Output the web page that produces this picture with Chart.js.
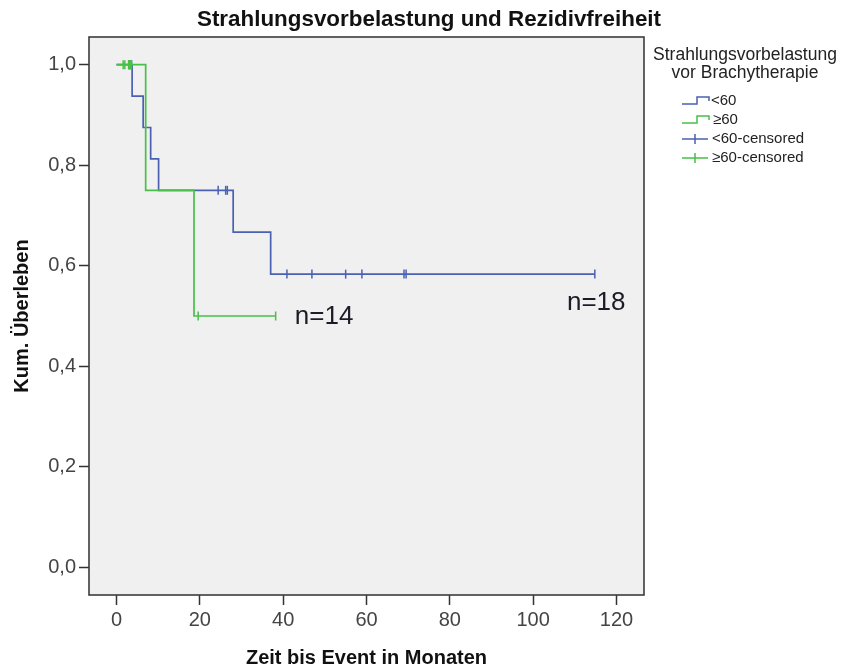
<!DOCTYPE html>
<html>
<head>
<meta charset="utf-8">
<script src="https://cdn.jsdelivr.net/npm/chart.js@4/dist/chart.umd.min.js"></script>
<style>
  html, body { margin: 0; padding: 0; background: #ffffff; }
  #wrap { width: 844px; height: 671px; position: relative; }
</style>
</head>
<body>
<div id="wrap"><canvas id="km"></canvas></div>
<script>
// Kaplan-Meier step curves (time in months, cumulative survival)
const lowTimes = [0, 3.75, 6.4, 8.2, 10.1, 28.0, 37.0, 114.8];
const lowSurv  = [1, 0.9375, 0.875, 0.8125, 0.75, 0.6667, 0.5833, 0.5833];
const highTimes = [0, 7.0, 18.6, 38.2];
const highSurv  = [1, 0.75, 0.5, 0.5];

// Censored observations
const lowCensTimes = [3.0, 3.6, 24.4, 26.2, 26.6, 40.9, 46.9, 55.0, 58.9, 69.0, 69.5, 114.8];
const lowCensSurv  = [1, 1, 0.75, 0.75, 0.75, 0.5833, 0.5833, 0.5833, 0.5833, 0.5833, 0.5833, 0.5833];
const highCensTimes = [1.6, 2.0, 2.9, 3.0, 3.1, 3.2, 3.3, 3.4, 3.5, 3.6, 19.6, 38.2];
const highCensSurv  = [1, 1, 1, 1, 1, 1, 1, 1, 1, 1, 0.5, 0.5];

// Axis ticks
const xTicks = [0, 20, 40, 60, 80, 100, 120];
const yTicks = [0, 0.2, 0.4, 0.6, 0.8, 1.0];
const yTickLabels = ['0,0', '0,2', '0,4', '0,6', '0,8', '1,0'];

// Group labels and legend text
const groupNames = ['<60', '\u226560'];
const groupCounts = ['n=18', 'n=14'];
const groupCountPos = [[108.1, 0.527], [42.8, 0.499]];
const chartTitle = 'Strahlungsvorbelastung und Rezidivfreiheit';
const legendTitle = ['Strahlungsvorbelastung', 'vor Brachytherapie'];

const BLUE = '#4a60b2';
const GREEN = '#48c048';
const FONT = '"Liberation Sans", Arial, sans-serif';

const pts = (xs, ys) => xs.map((x, i) => ({ x, y: ys[i] }));

// Plot frame, title, group counts and legend
const decor = {
  id: 'decor',
  beforeDatasetsDraw(chart) {
    const { ctx, chartArea: a } = chart;
    ctx.save();
    ctx.fillStyle = '#f0f0f0';
    ctx.fillRect(a.left, a.top, a.right - a.left, a.bottom - a.top);
    ctx.restore();
  },
  afterDatasetsDraw(chart) {
    const { ctx, chartArea: a, scales } = chart;
    ctx.save();
    ctx.strokeStyle = '#3c3c3c';
    ctx.lineWidth = 1.6;
    ctx.strokeRect(a.left, a.top, a.right - a.left, a.bottom - a.top);

    // chart title
    ctx.fillStyle = '#111';
    ctx.font = 'bold 22.4px ' + FONT;
    ctx.textAlign = 'center';
    ctx.textBaseline = 'middle';
    ctx.fillText(chartTitle, 429, 20);

    // group counts
    ctx.font = '26px ' + FONT;
    ctx.fillStyle = '#1c1c28';
    ctx.textAlign = 'left';
    groupCounts.forEach((t, i) => {
      const [gx, gy] = groupCountPos[i];
      ctx.fillText(t, scales.x.getPixelForValue(gx), scales.y.getPixelForValue(gy));
    });

    // legend
    ctx.fillStyle = '#222';
    ctx.font = '17.5px ' + FONT;
    ctx.textAlign = 'center';
    ctx.fillText(legendTitle[0], 745, 55);
    ctx.fillText(legendTitle[1], 745, 73);

    ctx.font = '15px ' + FONT;
    ctx.textAlign = 'left';
    ctx.lineWidth = 1.5;
    const colors = [BLUE, GREEN];
    [0, 1].forEach(i => {
      const by = 104 + i * 19;
      ctx.strokeStyle = colors[i];
      ctx.beginPath();
      ctx.moveTo(682, by);
      ctx.lineTo(697, by);
      ctx.lineTo(697, by - 7);
      ctx.lineTo(709, by - 7);
      ctx.lineTo(709, by - 3);
      ctx.stroke();
      ctx.fillStyle = '#222';
      ctx.fillText(groupNames[i], 711 + i * 2, by - 3);
    });
    [0, 1].forEach(i => {
      const cy = 139 + i * 19;
      ctx.strokeStyle = colors[i];
      ctx.beginPath();
      ctx.moveTo(682, cy);
      ctx.lineTo(708, cy);
      ctx.moveTo(695, cy - 5);
      ctx.lineTo(695, cy + 5);
      ctx.stroke();
      ctx.fillStyle = '#222';
      ctx.fillText(groupNames[i] + '-censored', 712, cy);
    });
    ctx.restore();
  }
};

const censStyle = color => ({
  type: 'scatter',
  showLine: false,
  pointStyle: 'line',
  rotation: 90,
  radius: 4.5,
  hoverRadius: 4.5,
  borderColor: color,
  backgroundColor: color,
  borderWidth: 1.5
});

new Chart(document.getElementById('km'), {
  type: 'line',
  data: {
    datasets: [
      { label: groupNames[1], data: pts(highTimes, highSurv), stepped: true,
        borderColor: GREEN, borderWidth: 1.7, pointRadius: 0, fill: false },
      Object.assign({ label: groupNames[1] + '-censored', data: pts(highCensTimes, highCensSurv) }, censStyle(GREEN)),
      { label: groupNames[0], data: pts(lowTimes, lowSurv), stepped: true,
        borderColor: BLUE, borderWidth: 1.7, pointRadius: 0, fill: false },
      Object.assign({ label: groupNames[0] + '-censored', data: pts(lowCensTimes, lowCensSurv) }, censStyle(BLUE))
    ]
  },
  options: {
    responsive: true,
    maintainAspectRatio: false,
    animation: false,
    events: [],
    layout: { padding: { top: 37, right: 200, left: 0, bottom: 0 } },
    plugins: { legend: { display: false }, title: { display: false }, tooltip: { enabled: false } },
    scales: {
      x: {
        type: 'linear',
        min: -6.6,
        max: 126.6,
        afterFit: s => { s.height = 76; },
        afterBuildTicks: s => { s.ticks = xTicks.map(v => ({ value: v })); },
        border: { display: false },
        grid: { drawOnChartArea: false, drawTicks: true, tickLength: 10, tickColor: '#333', tickWidth: 1.5 },
        ticks: { padding: 3, color: '#444', font: { family: FONT, size: 20 }, maxRotation: 0 },
        title: { display: true, text: 'Zeit bis Event in Monaten', color: '#111',
                 font: { family: FONT, size: 20, weight: 'bold' }, padding: { top: 0, bottom: 1 } }
      },
      y: {
        type: 'linear',
        min: -0.055,
        max: 1.055,
        afterFit: s => { s.width = 89; },
        afterBuildTicks: s => { s.ticks = yTicks.map(v => ({ value: v })); },
        border: { display: false },
        grid: { drawOnChartArea: false, drawTicks: true, tickLength: 10, tickColor: '#333', tickWidth: 1.5 },
        ticks: { padding: 3, color: '#444', font: { family: FONT, size: 20 },
                 callback: v => yTickLabels[yTicks.indexOf(Math.round(v * 10) / 10)] },
        title: { display: true, text: 'Kum. \u00dcberleben', color: '#111',
                 font: { family: FONT, size: 20, weight: 'bold' }, padding: { top: 10, bottom: 0 } }
      }
    }
  },
  plugins: [decor]
});
</script>
</body>
</html>
